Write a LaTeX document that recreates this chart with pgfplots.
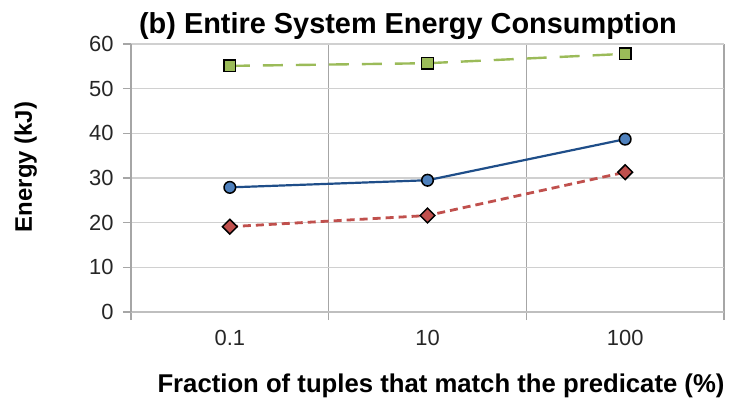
\documentclass[border=0pt]{standalone}
\usepackage{pgfplots}
\pgfplotsset{compat=1.18}
\usepackage{fontspec}
\setmainfont{Liberation Sans}
\definecolor{vgrid}{HTML}{A6A6A6}
\definecolor{hgrid}{HTML}{D0D0D0}
\definecolor{bline}{HTML}{1F4E89}
\definecolor{bfill}{HTML}{4F81BD}
\definecolor{rline}{HTML}{C0504D}
\definecolor{gline}{HTML}{9BBB59}
\begin{document}
\begin{tikzpicture}[x=1bp,y=1bp]
\useasboundingbox (-131,-92) rectangle (599,312);
\begin{axis}[
  at={(0,0)}, anchor=south west,
  width=593bp, height=268bp, scale only axis,
  xmin=-0.5, xmax=2.5, ymin=0, ymax=60,
  xtick={0,1,2}, xticklabels={0.1,10,100},
  minor xtick={-0.5,0.5,1.5,2.5},
  ytick={0,10,...,60},
  axis x line*=bottom, axis y line*=left,
  axis line style={vgrid, line width=1.2bp, -},
  x axis line style={hgrid!60!vgrid},
  ymajorgrids, xminorgrids,
  major grid style={hgrid, line width=1.2bp},
  minor grid style={vgrid, line width=1.2bp},
  tick align=outside,
  major tick length=8bp, minor tick length=8bp,
  major x tick style={draw=none},
  major y tick style={vgrid, line width=1.2bp},
  minor x tick style={vgrid, line width=1.2bp},
  /pgf/number format/assume math mode=true,
  ticklabel style={font=\fontsize{22}{26}\selectfont, text=black!85},
  yticklabel style={xshift=-6bp},
  xticklabel style={yshift=-7bp},
  clip=false,
]
\addplot[bline, line width=2.2bp, mark=*, mark size=5.8bp,
  mark options={fill=bfill, draw=black, line width=1.5bp, solid}]
  coordinates {(0,27.9) (1,29.5) (2,38.7)};
\addplot[rline, line width=2.8bp, dash pattern=on 8bp off 5bp, mark=square*, mark size=5.2bp,
  mark options={fill=rline, draw=black, line width=1.5bp, solid, rotate=45}]
  coordinates {(0,19.1) (1,21.6) (2,31.3)};
\addplot[gline, line width=2.4bp, dash pattern=on 20bp off 13bp, mark=square*, mark size=5.8bp,
  mark options={fill=gline, draw=black, line width=1.5bp, solid}]
  coordinates {(0,55.1) (1,55.7) (2,57.8)};
\end{axis}
\node[anchor=base, font=\bfseries\fontsize{29}{34}\selectfont] at (277,279) {(b) Entire System Energy Consumption};
\node[anchor=base, font=\bfseries\fontsize{25.8}{30}\selectfont] at (310,-80) {Fraction of tuples that match the predicate (\%)};
\node[anchor=base, rotate=90, font=\bfseries\fontsize{24}{28}\selectfont] at (-99,145) {Energy (kJ)};
\end{tikzpicture}
\end{document}
